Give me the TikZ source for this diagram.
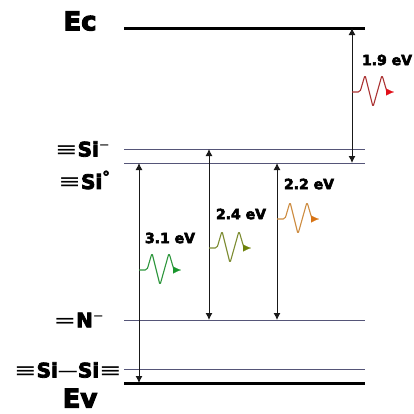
\documentclass[tikz,border=0pt]{standalone}
\usepackage{fontspec}
\setmainfont{DejaVu Sans}
\newfontfamily\heavyfont[FakeBold=4]{DejaVu Sans Bold}
\newfontfamily\bondfont{DejaVu Sans}
\usetikzlibrary{arrows.meta}
\definecolor{levelblue}{RGB}{85,85,120}
\definecolor{redwave}{RGB}{170,50,50}
\definecolor{redtip}{RGB}{225,15,25}
\definecolor{greenwave}{RGB}{45,150,60}
\definecolor{greentip}{RGB}{25,150,45}
\definecolor{olivewave}{RGB}{125,140,50}
\definecolor{olivetip}{RGB}{110,130,10}
\definecolor{orangewave}{RGB}{205,140,65}
\definecolor{orangetip}{RGB}{215,115,20}
\tikzset{
  band/.style={line width=3pt, black},
  level/.style={line width=1pt, levelblue},
  gap/.style={line width=1pt, {Latex[length=7pt,width=7pt]}-{Latex[length=7pt,width=7pt]}, black!90},
  wave/.style={line width=1.1pt, rounded corners=1.8pt, line join=round},
  species/.style={anchor=east, inner sep=0pt, font=\heavyfont\fontsize{20}{20}\selectfont},
  bandname/.style={inner sep=0pt, font=\heavyfont\fontsize{26}{26}\selectfont},
  energy/.style={inner sep=0pt, font=\heavyfont\fontsize{14}{14}\selectfont}
}
\newcommand{\thinbond}[1]{\scalebox{1.35}[1]{\bondfont #1}}
\newcommand{\photon}[3]{%
\draw[wave, #2] (#1) -- ++(8,0) -- ++(5,-17) -- ++(8,32) -- ++(9,-32) -- ++(5,17);
\draw[-{Latex[length=8pt,width=7pt]}, line width=0.1pt, #3] (#1) ++(34,0) -- ++(8,0);
}
\begin{document}
\begin{tikzpicture}[x=1pt,y=-1pt]
\useasboundingbox (0,0) rectangle (414,413);
% energy levels
\coordinate (ecl) at (124,28);
\coordinate (ecr) at (365,28);
\coordinate (sinegl) at (124,149);
\coordinate (sinegr) at (365,149);
\coordinate (sizerl) at (124,163);
\coordinate (sizerr) at (365,163);
\coordinate (nl) at (124,320);
\coordinate (nr) at (365,320);
\coordinate (sisil) at (124,369);
\coordinate (sisir) at (365,369);
\coordinate (evl) at (124,383);
\coordinate (evr) at (365,383);
\draw[band] (ecl) -- (ecr);
\draw[level] (sinegl) -- (sinegr);
\draw[level] (sizerl) -- (sizerr);
\draw[level] (nl) -- (nr);
\draw[level] (sisil) -- (sisir);
\draw[band] (evl) -- (evr);
% labels
\node[bandname] (ec) at (80,21) {Ec};
\node[bandname] (ev) at (80,398) {Ev};
\node[species] (lsineg) at (110,149) {\thinbond{≡}Si\raisebox{7pt}{\bondfont\fontsize{13}{13}\selectfont −}};
\node[species] (lsizer) at (110,180) {\thinbond{≡}Si\raisebox{7pt}{\fontsize{15}{15}\selectfont °}};
\node[species] (lnneg) at (104,320) {\thinbond{=}N\raisebox{7pt}{\bondfont\fontsize{13}{13}\selectfont −}};
\node[species] (lsisi) at (122,370) {\thinbond{≡}Si{\bondfont —}Si\thinbond{≡}};
% transitions
\coordinate (a1) at (139,163);
\coordinate (a2) at (139,383);
\coordinate (b1) at (209,149);
\coordinate (b2) at (209,320);
\coordinate (c1) at (277,163);
\coordinate (c2) at (277,320);
\coordinate (d1) at (352,28);
\coordinate (d2) at (352,163);
\draw[gap] (a1) -- (a2);
\draw[gap] (b1) -- (b2);
\draw[gap] (c1) -- (c2);
\draw[gap] (d1) -- (d2);
% photons
\coordinate (wa) at (139,270);
\coordinate (wb) at (209,248);
\coordinate (wc) at (277,219);
\coordinate (wd) at (352,92);
\photon{wa}{greenwave}{greentip}
\photon{wb}{olivewave}{olivetip}
\photon{wc}{orangewave}{orangetip}
\photon{wd}{redwave}{redtip}
\node[energy] (ea) at (170,238) {3.1 eV};
\node[energy] (eb) at (241,214) {2.4 eV};
\node[energy] (ec1) at (309,184) {2.2 eV};
\node[energy] (ed) at (387,60) {1.9 eV};
\end{tikzpicture}
\end{document}
